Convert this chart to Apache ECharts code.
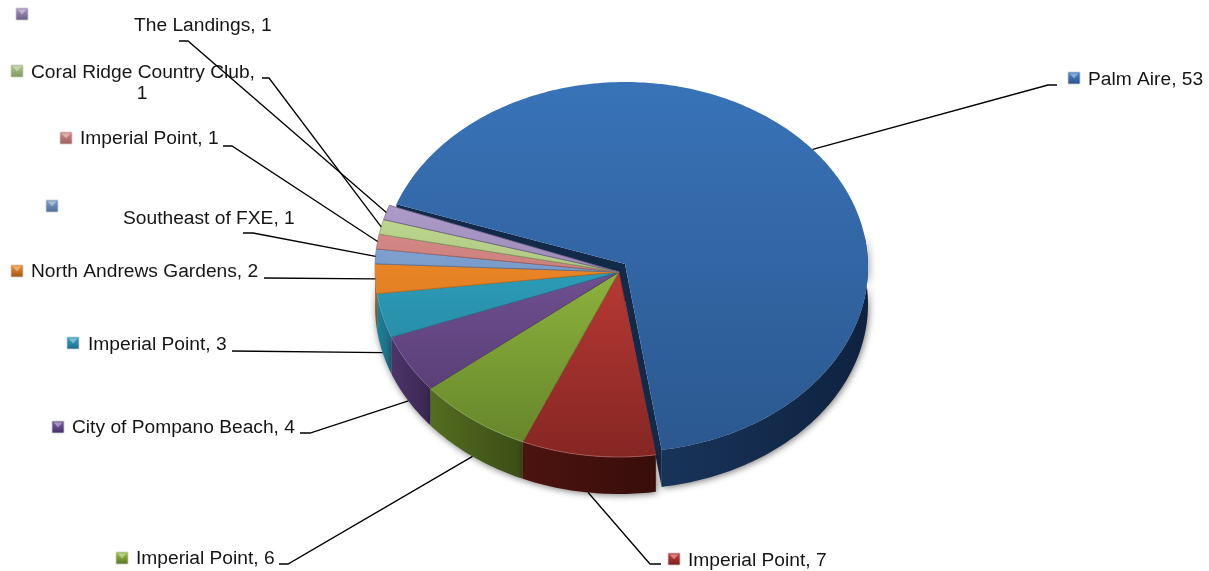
<!DOCTYPE html>
<html><head><meta charset="utf-8">
<style>html,body{margin:0;padding:0;background:#fff}#c{width:1209px;height:571px}</style>
<script src="https://cdn.jsdelivr.net/npm/echarts@6/dist/echarts.min.js"></script>
</head><body><div id="c"></div>
<script>
// ---- data ----
var categories = ['Palm Aire','Imperial Point','Imperial Point','City of Pompano Beach','Imperial Point','North Andrews Gardens','Southeast of FXE','Imperial Point','Coral Ridge Country Club','The Landings'];
var values = [53,7,6,4,3,2,1,1,1,1];

// ---- styles ----
var topLight = ['#3873b8','#c9403a','#9cc444','#7a58a0','#31a6c4','#f88e28','#85abdc','#dc8d8a','#c0da90','#ad9cca'];
var topDark  = ['#2b578e','#852623','#638229','#4e3668','#1f7a92','#b8671a','#566f96','#9a5f5d','#7f9760','#6e5f85'];
var wallA    = ['#183459','#4c1310','#546c20','#4c3469','#1f8099','#c06a1a','#4c6f9c','#9a5350','#7f9c52','#6c5a8c'];
var wallB    = ['#0f2240','#380d0a','#3b4e16','#3a2752','#1b6a82','#a85c16','#43618a','#85474a','#6e8845','#5c4c78'];
var markTop  = ['#4a86cc','#c8413c','#9cc24a','#7c5ca6','#36a6c6','#ee8a2c','#7f9fca','#d08a88','#b0c98a','#a596c0'];
var markBot  = ['#2a5690','#7d201e','#5c7a25','#47306a','#1c6f8a','#a85a14','#4f6f9c','#a05f5d','#7f9a5a','#72608c'];

// ---- layout ----
var fontPx = 19.2;
var startAngle = -70.2, depth = 37;
var mainPie  = {cx:619, cy:269, rx:244, ry:188, ax:619, ay:272};
var apartPie = {cx:625, cy:267, rx:243, ry:185, ax:625, ay:264};
var labelX = [1088,688,136,72,88,31,123,80,31,134];
var labelY = [80,561,559,428,345,272,219,139,73,26];
var markX  = [1074,674,122,58,73,17,52,66,17,22];
var markY  = [78,559,558,427,343,271,206,138,71,14];
var lineEnd  = [[1057,85],[661,564],[279,564],[300,433],[232,351],[264,278],[243,233],[223,146],[262,78],[179,41]];
var lineBend = [[1048,85],[650,564],[288,564],[310,433],[232,351],[264,278],[253,233],[232,146],[269,78],[188,41]];

var total = values.reduce(function(a,b){return a+b;},0);
function spanOf(i){
  var s = startAngle;
  for (var k=0;k<i;k++) s += values[k]/total*360;
  return [s, s + values[i]/total*360];
}
function pieOf(i){ return i===0 ? apartPie : mainPie; }
function rim(p,deg,dy){
  var r = deg*Math.PI/180;
  return [p.cx + p.rx*Math.sin(r), p.cy - p.ry*Math.cos(r) + (dy||0)];
}
function arc(p,a,b,dy){
  var out=[], n=Math.max(4,Math.ceil(Math.abs(b-a)));
  for (var k=0;k<=n;k++) out.push(rim(p,a+(b-a)*k/n,dy));
  return out;
}
function topGrad(i){
  return new echarts.graphic.LinearGradient(0,i===0?82:205,0,458,
    [{offset:0,color:topLight[i]},{offset:1,color:topDark[i]}],true);
}
function wallGrad(i){
  return new echarts.graphic.LinearGradient(0,0,1,0,
    [{offset:0,color:wallA[i]},{offset:1,color:wallB[i]}]);
}
var soft = {shadowBlur:7,shadowColor:'rgba(0,0,0,0.55)',shadowOffsetX:1,shadowOffsetY:1};

function renderWall(params,api){
  var i=api.value(0), p=pieOf(i), s=spanOf(i), kids=[];
  // only the walls that face the viewer cast a soft shadow
  if(i===0){
    var from=Math.max(s[0],80);
    kids.push({type:'polygon',shape:{points:arc(p,from,s[1],0).concat(arc(p,from,s[1],depth).reverse())},
      style:Object.assign({fill:wallGrad(i)},soft)});
    var c=[p.ax,p.ay], cd=[p.ax,p.ay+depth];
    [s[0],s[1]].forEach(function(a){
      kids.push({type:'polygon',shape:{points:[c,rim(p,a,0),rim(p,a,depth),cd]},style:{fill:'#12294a'}});
    });
  } else {
    var st={fill:wallGrad(i)};
    if(i<6) Object.assign(st,soft);
    kids.push({type:'polygon',shape:{points:arc(p,s[0],s[1],0).concat(arc(p,s[0],s[1],depth).reverse())},style:st});
  }
  return {type:'group',children:kids};
}
function renderTop(params,api){
  var i=api.value(0), p=pieOf(i), s=spanOf(i);
  var pts=[[p.ax,p.ay]].concat(arc(p,s[0],s[1],0));
  var kids=[{type:'polygon',shape:{points:pts},style:{fill:topGrad(i),stroke:i===0?null:topDark[i],lineWidth:i===0?0:0.8}}];
  if(i!==0) kids.push({type:'polyline',shape:{points:arc(p,s[0],s[1],0)},style:{fill:null,stroke:'rgba(255,255,255,0.22)',lineWidth:1}});
  return {type:'group',children:kids};
}
function midAnchor(i){
  var s=spanOf(i), m=(s[0]+s[1])/2, p=pieOf(i);
  var front = m>90 && m<262;
  return rim(p,m,front?depth:0);
}
function renderLabel(params,api){
  var i=api.value(0), kids=[];
  kids.push({type:'polyline',shape:{points:[midAnchor(i),lineBend[i],lineEnd[i]]},
    style:{fill:null,stroke:'#000',lineWidth:1.3}});
  var mx=markX[i], my=markY[i], h=5.6;
  kids.push({type:'rect',shape:{x:mx-h,y:my-h,width:2*h,height:2*h},
    style:{fill:new echarts.graphic.LinearGradient(0,0,0,1,[{offset:0,color:markTop[i]},{offset:1,color:markBot[i]}]),
           shadowBlur:1.5,shadowColor:'rgba(0,0,0,0.3)'}});
  kids.push({type:'polygon',shape:{points:[[mx-4.4,my-4.6],[mx+4.4,my-4.6],[mx,my+0.5]]},
    style:{fill:'rgba(255,255,255,0.38)'}});
  var txt=categories[i]+', '+values[i];
  var st={fontSize:fontPx,fontFamily:'"Liberation Sans",Arial,sans-serif',fill:'#151515',align:'left',verticalAlign:'middle'};
  if(i===8){
    kids.push({type:'text',style:Object.assign({},st,{x:labelX[i],y:labelY[i],text:categories[i]+','})});
    kids.push({type:'text',style:Object.assign({},st,{x:142,y:labelY[i]+21,text:String(values[i]),align:'center'})});
  } else {
    kids.push({type:'text',style:Object.assign({},st,{x:labelX[i],y:labelY[i],text:txt})});
  }
  return {type:'group',children:kids};
}
function rows(order){ return order.map(function(i){return [i,values[i]];}); }
var restFirst=[1,2,3,4,5,6,7,8,9,0], blueFirst=[0,9,8,7,6,5,4,3,2,1];
var chart=echarts.init(document.getElementById('c'),null,{renderer:'canvas'});
chart.setOption({
  animation:false,
  backgroundColor:'#fff',
  tooltip:{show:false},
  series:[
    {type:'custom',coordinateSystem:'none',z:1,silent:true,data:rows(blueFirst),renderItem:renderWall},
    {type:'custom',coordinateSystem:'none',z:2,silent:true,data:rows(restFirst),renderItem:renderTop},
    {type:'custom',coordinateSystem:'none',z:3,silent:true,data:rows(restFirst),renderItem:renderLabel}
  ]
});
</script></body></html>
